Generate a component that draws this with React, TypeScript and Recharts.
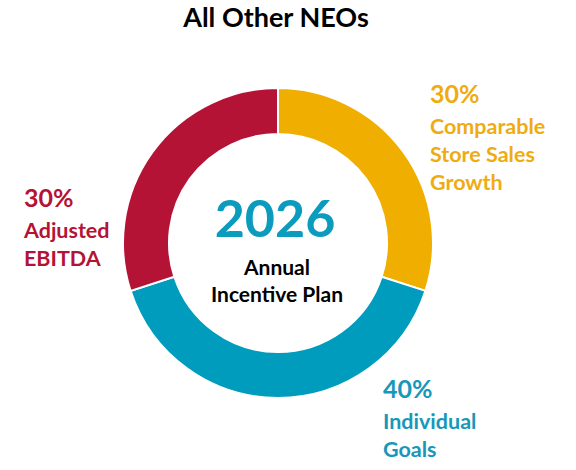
import { PieChart, Pie, Cell } from "recharts"

const segments = ["Comparable Store Sales Growth", "Individual Goals", "Adjusted EBITDA"]
const weights = [30, 40, 30]
const colors = ["#F0AE00", "#009CBD", "#B51335"]
const labelLines = [
  ["Comparable", "Store Sales", "Growth"],
  ["Individual", "Goals"],
  ["Adjusted", "EBITDA"],
]
const labelColors = ["#EEAC12", "#1698BA", "#B51335"]

const data = segments.map((name, i) => ({ name, value: weights[i] }))

const font = "Lato, 'Open Sans', sans-serif"

// where each callout sits (x, baseline of the percent line)
const callouts = [
  { x: 430, y: 103 },
  { x: 383, y: 398 },
  { x: 24, y: 207 },
]

export default function App() {
  return (
    <div style={{ position: "absolute", left: 0, top: 0, width: 576, height: 470, background: "#fff" }}>
      <PieChart width={576} height={470} margin={{ top: 0, right: 0, bottom: 0, left: 0 }}>
        <text x={276} y={27} textAnchor="middle" fontFamily={font} fontWeight={700} fontSize={27} fill="#000">
          All Other NEOs
        </text>
        <Pie
          data={data}
          dataKey="value"
          nameKey="name"
          cx={278}
          cy={243}
          innerRadius={109}
          outerRadius={155}
          startAngle={90}
          endAngle={-270}
          stroke="#fff"
          strokeWidth={2}
          isAnimationActive={false}
        >
          {data.map((d, i) => (
            <Cell key={d.name} fill={colors[i]} />
          ))}
        </Pie>
        <text x={275} y={237} textAnchor="middle" fontFamily={font} fontWeight={700} fontSize={52} fill="#0A9BBD">
          2026
        </text>
        <text x={277} y={275} textAnchor="middle" fontFamily={font} fontWeight={700} fontSize={21} fill="#000">
          Annual
        </text>
        <text x={277} y={302} textAnchor="middle" fontFamily={font} fontWeight={700} fontSize={21} fill="#000">
          Incentive Plan
        </text>
        {callouts.map((c, i) => (
          <g key={segments[i]} fontFamily={font} fontWeight={700} fill={labelColors[i]}>
            <text x={c.x} y={c.y} fontSize={25}>
              {weights[i]}%
            </text>
            {labelLines[i].map((line, j) => (
              <text key={line} x={c.x} y={c.y + 31 + j * 28} fontSize={21.5}>
                {line}
              </text>
            ))}
          </g>
        ))}
      </PieChart>
    </div>
  )
}
